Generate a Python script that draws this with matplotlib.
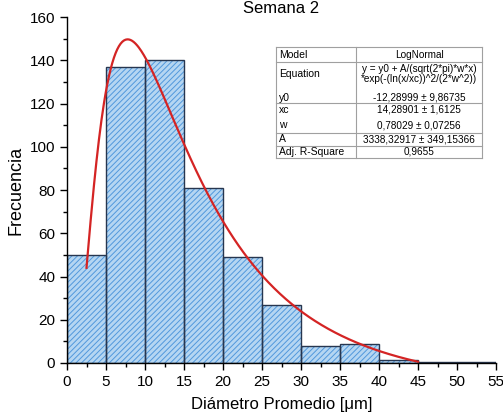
import numpy as np
import matplotlib
matplotlib.use("Agg")
import matplotlib.pyplot as plt
from matplotlib.lines import Line2D

plt.rcParams['font.family'] = ['Liberation Sans', 'DejaVu Sans']
plt.rcParams['hatch.linewidth'] = 0.7

#------------DATA--------------------------
bin_left = [0, 5, 10, 15, 20, 25, 30, 35, 40, 45, 50]
bin_width = 5
counts = [50, 137, 140, 81, 49, 27, 8, 9, 1.5, 0.6, 0.6]

# fit parameters (LogNormal) as shown in the chart
y0 = -12.28999
xc = 14.28901
w = 0.78029
A = 3338.32917
fit_range = (2.5, 45)

table_rows = [
    ("Model", "LogNormal"),
    ("Equation", "y = y0 + A/(sqrt(2*pi)*w*x)\n*exp(-(ln(x/xc))^2/(2*w^2))"),
    ("y0", "-12,28999 ± 9,86735"),
    ("xc", "14,28901 ± 1,6125"),
    ("w", "0,78029 ± 0,07256"),
    ("A", "3338,32917 ± 349,15366"),
    ("Adj. R-Square", "0,9655"),
]

#------------FIGURE--------------------------
W, H = 503, 420
fig = plt.figure(figsize=(W / 100, H / 100), dpi=100)
ax = fig.add_axes([67 / W, 1 - 363 / H, (496 - 67) / W, (363 - 17) / H])

# hatched fill, then dark outlines
ax.bar(bin_left, counts, width=bin_width, align='edge', color='#b5d6f2',
       edgecolor='#5198dc', hatch='//////', linewidth=0)
ax.bar(bin_left, counts, width=bin_width, align='edge', fill=False,
       edgecolor='#27364f', linewidth=1.0)

xs = np.linspace(fit_range[0], fit_range[1], 400)
ys = y0 + A / (np.sqrt(2 * np.pi) * w * xs) * np.exp(-(np.log(xs / xc)) ** 2 / (2 * w ** 2))
ax.plot(xs, ys, color='#d42424', linewidth=1.6)

ax.set_xlim(0, 55)
ax.set_ylim(0, 160)
ax.set_xticks(np.arange(0, 56, 5))
ax.set_xticks(np.arange(2.5, 55, 5), minor=True)
ax.set_yticks(np.arange(0, 161, 20))
ax.set_yticks(np.arange(10, 160, 20), minor=True)
for s in ['top', 'right']:
    ax.spines[s].set_visible(False)
for s in ['left', 'bottom']:
    ax.spines[s].set_linewidth(1.0)
ax.tick_params(which='major', direction='out', length=5, width=1, labelsize=11)
ax.tick_params(which='minor', direction='out', length=3, width=1)

ax.set_xlabel("Diámetro Promedio [μm]", fontsize=12, labelpad=6)
ax.set_ylabel("Frecuencia", fontsize=13, labelpad=4)

fig.text(281 / W, 1 - 1 / H, "Semana 2", ha='center', va='top', fontsize=12)

#------------FIT TABLE--------------------------
tx0, tx1, tx2 = 276, 356, 482
row_lines = [47, 62, 103, 133, 146, 158]
text_y = [55, 74, 98, 110, 125, 139, 152]
grey = '#a0a0a0'

def fx(px):
    return px / W

def fy(py):
    return 1 - py / H

for y in row_lines:
    fig.add_artist(Line2D([fx(tx0), fx(tx2)], [fy(y), fy(y)], color=grey, lw=0.8))
for x in (tx0, tx1, tx2):
    fig.add_artist(Line2D([fx(x), fx(x)], [fy(row_lines[0]), fy(row_lines[-1])], color=grey, lw=0.8))

for (name, val), y in zip(table_rows, text_y):
    fig.text(fx(tx0 + 3), fy(y), name, ha='left', va='center', fontsize=7.5)
    fig.text(fx((tx1 + tx2) / 2), fy(y), val, ha='center', va='center', fontsize=7.2,
             linespacing=1.0)

fig.savefig("out.png", dpi=100)
